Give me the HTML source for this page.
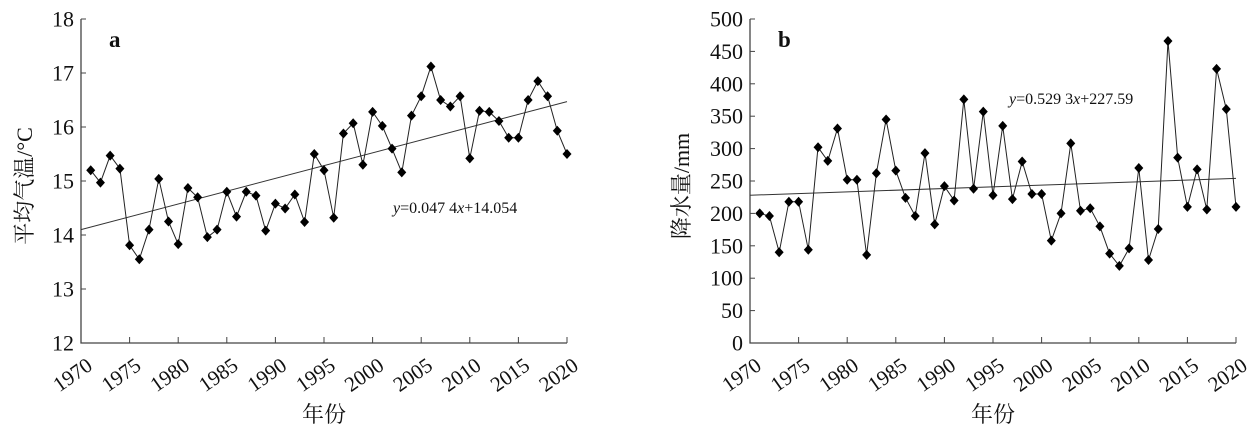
<!DOCTYPE html>
<html><head><meta charset="utf-8"><style>
html,body{margin:0;padding:0;background:#fff;}
svg{display:block;}
text{font-family:"Liberation Serif","Noto Serif CJK SC",serif;fill:#111;}
</style></head><body>
<svg id="s" width="1248" height="432" viewBox="0 0 1248 432" xmlns="http://www.w3.org/2000/svg"></svg>
<script>
const s=document.getElementById('s');let h='';
const A=[15.2,14.97,15.47,15.23,13.81,13.55,14.1,15.04,14.25,13.83,14.87,14.7,13.96,14.1,14.8,14.34,14.8,14.73,14.08,14.58,14.49,14.75,14.24,15.5,15.2,14.32,15.88,16.07,15.3,16.28,16.02,15.6,15.16,16.21,16.57,17.12,16.5,16.38,16.57,15.42,16.3,16.28,16.11,15.8,15.8,16.5,16.85,16.57,15.93,15.5];
const B=[200,196,140,218,218,144,302,281,331,252,252,136,262,345,266,224,196,293,183,242,220,376,238,357,228,335,222,280,230,230,158,200,308,204,208,180,138,119,146,270,128,176,466,286,210,268,206,423,361,210];
function chart(x0,x1,y0,y1,vmin,vmax,step,data,t0,t1,lab,letter,eq,ex,ey,labx){
 const X=yr=>x0+(yr-1970)*(x1-x0)/50, Y=v=>y0-(v-vmin)*(y0-y1)/(vmax-vmin);
 h+=`<path d="M${x0} ${y1}V${y0}H${x1}" stroke="#444" stroke-width="1.3" fill="none"/>`;
 for(let v=vmin;v<=vmax+1e-9;v+=step){const y=Y(v);h+=`<line x1="${x0}" x2="${x0+5}" y1="${y}" y2="${y}" stroke="#444"/><text x="${x0-7}" y="${y+7.5}" font-size="22" text-anchor="end">${v}</text>`;}
 for(let yr=1970;yr<=2020;yr+=5){const x=X(yr);h+=`<line x1="${x}" x2="${x}" y1="${y0}" y2="${y0-6}" stroke="#444"/><text transform="translate(${x+4},${y0+13}) rotate(-35)" font-size="21" text-anchor="end" dominant-baseline="hanging">${yr}</text>`;}
 h+=`<line x1="${x0}" y1="${Y(t0)}" x2="${x1}" y2="${Y(t1)}" stroke="#333" stroke-width="1"/>`;
 let p=data.map((v,i)=>`${X(1971+i).toFixed(1)},${Y(v).toFixed(1)}`).join(' ');
 h+=`<polyline points="${p}" fill="none" stroke="#222" stroke-width="1"/>`;
 data.forEach((v,i)=>{const x=X(1971+i),y=Y(v);h+=`<path d="M${x} ${y-5}L${x+4.5} ${y}L${x} ${y+5}L${x-4.5} ${y}Z" fill="#000"/>`;});
 h+=`<text x="${x0+28}" y="47" font-size="23" font-weight="bold">${letter}</text>`;
 h+=`<text x="${ex}" y="${ey}" font-size="16">${eq}</text>`;
 h+=`<text transform="translate(${labx},186) rotate(-90)" font-size="22" text-anchor="middle" dominant-baseline="middle">${lab}</text>`;
 h+=`<text x="${(x0+x1)/2}" y="422" font-size="22" text-anchor="middle">年份</text>`;
}
chart(81,567,343,19,12,18,1,A,14.1,16.47,'平均气温/°C','a','<tspan font-style="italic">y</tspan>=0.047 4<tspan font-style="italic">x</tspan>+14.054',393,213,27);
chart(750,1236,343,19,0,500,50,B,228,254,'降水量/mm','b','<tspan font-style="italic">y</tspan>=0.529 3<tspan font-style="italic">x</tspan>+227.59',1009,104,684);
s.innerHTML=h;
</script>
</body></html>
